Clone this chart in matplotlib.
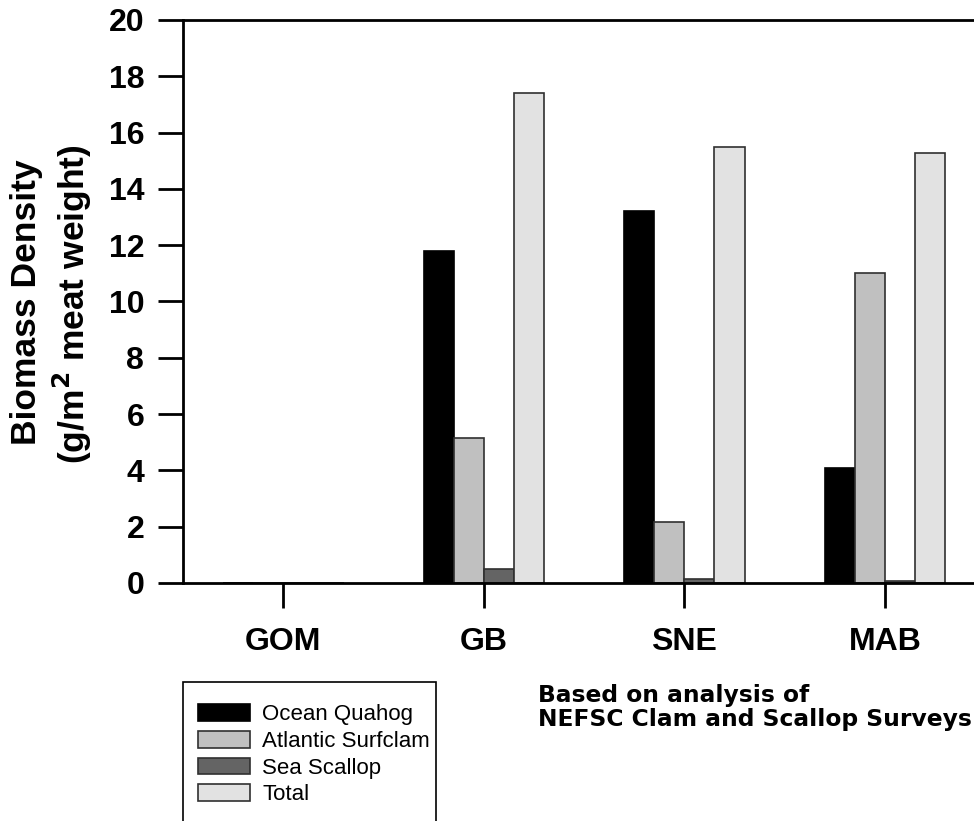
import matplotlib
matplotlib.use("Agg")
import matplotlib.pyplot as plt
from matplotlib.patches import Rectangle, Patch
import numpy as np

plt.rcParams['font.family'] = ['Liberation Sans', 'DejaVu Sans']

regions = ["GOM", "GB", "SNE", "MAB"]
species = ["Ocean Quahog", "Atlantic Surfclam", "Sea Scallop", "Total"]
quahog = [0, 11.8, 13.2, 4.1]
surfclam = [0, 5.15, 2.15, 11.0]
scallop = [0, 0.5, 0.15, 0.07]
total = [0, 17.4, 15.5, 15.28]
colors = ["#000000", "#c0c0c0", "#646464", "#e2e2e2"]
edges = ["#000000", "#303030", "#303030", "#303030"]

fig = plt.figure(figsize=(9.74, 8.21), dpi=100)
ax = fig.add_axes([0.188, 0.2899, 0.8234, 0.6858])

x = np.arange(len(regions))
w = 0.15
series = [quahog, surfclam, scallop, total]
for i, vals in enumerate(series):
    ax.bar(x + (i - 1.5) * w, vals, width=w, color=colors[i],
           edgecolor=edges[i], linewidth=1.2, zorder=2)

ax.set_xlim(-0.5, 3.5)
ax.set_ylim(0, 20)
ax.set_yticks(range(0, 21, 2))
ax.set_xticks(x)
ax.set_xticklabels(regions)
for s in ["left", "bottom", "top"]:
    ax.spines[s].set_linewidth(2)
ax.spines["right"].set_visible(False)
ax.tick_params(axis="y", direction="out", length=18, width=2, pad=10, labelsize=23)
ax.tick_params(axis="x", direction="out", length=18, width=2, pad=14, labelsize=23)
for lab in ax.get_xticklabels() + ax.get_yticklabels():
    lab.set_fontweight("bold")

fig.text(0.027, 0.632, "Biomass Density", rotation=90, ha="center", va="center",
         fontsize=25.5, fontweight="bold")
fig.text(0.074, 0.630, "(g/m$^\\mathbf{2}$ meat weight)", rotation=90, ha="center", va="center",
         fontsize=25.5, fontweight="bold")

# legend box, bottom cut off like the original
fig.patches.append(Rectangle((0.188, -0.05), 0.26, 0.219, transform=fig.transFigure,
                             facecolor="white", edgecolor="black", linewidth=1.2))
handles = [Patch(facecolor=colors[i], edgecolor=edges[i], linewidth=1.2) for i in range(4)]
fig.legend(handles, species, loc="upper left", bbox_to_anchor=(0.203, 0.142),
           frameon=False, fontsize=16, handlelength=2.35, handleheight=0.77,
           labelspacing=0.25, handletextpad=0.55, borderaxespad=0, borderpad=0)

fig.text(0.552, 0.167, "Based on analysis of\nNEFSC Clam and Scallop Surveys",
         ha="left", va="top", fontsize=16.8, fontweight="bold", linespacing=1.08,
         family="DejaVu Sans")

fig.savefig("out.png", dpi=100)
